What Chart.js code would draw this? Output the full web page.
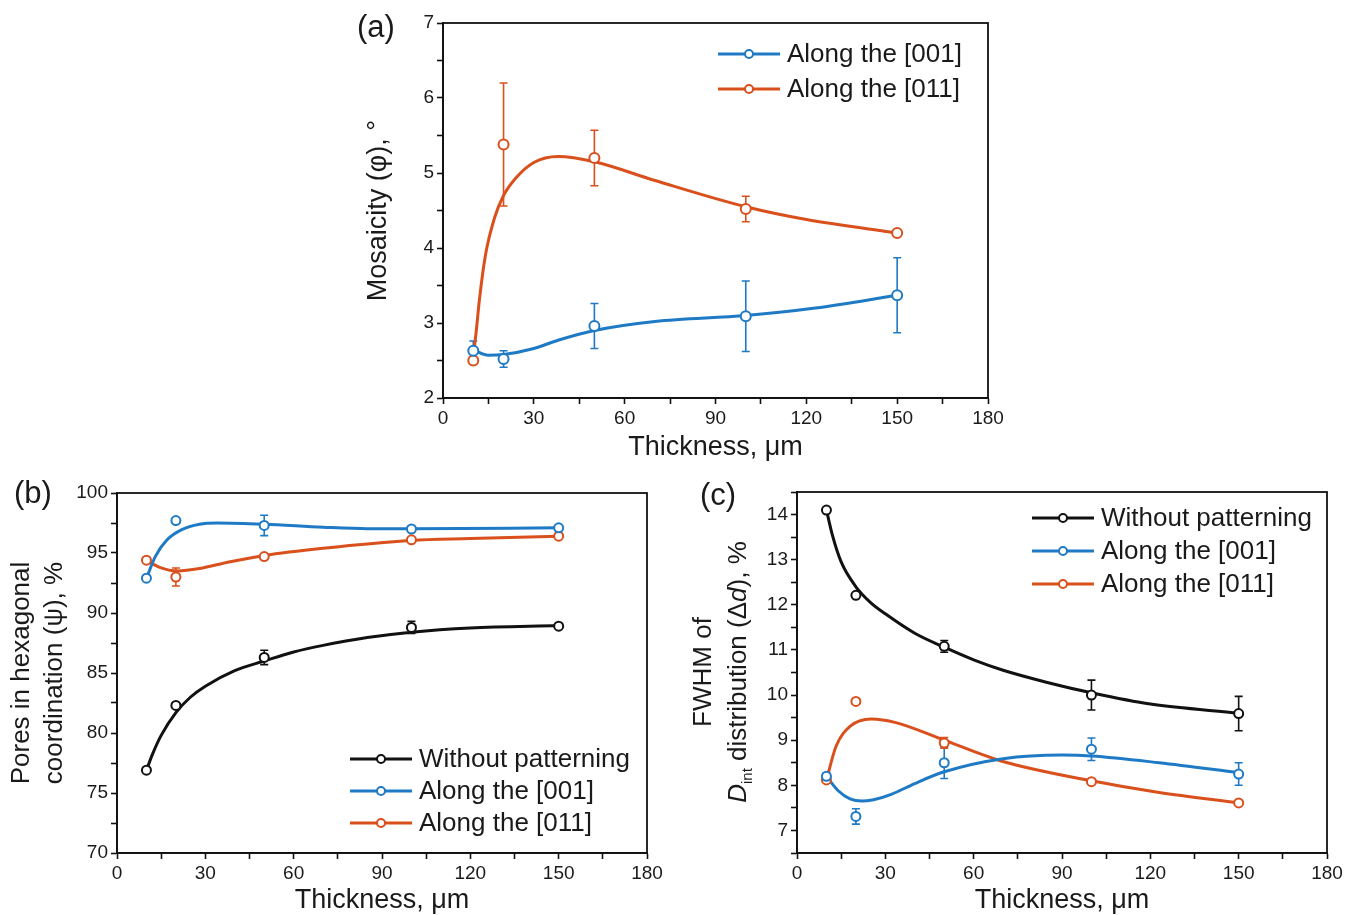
<!DOCTYPE html>
<html>
<head>
<meta charset="utf-8">
<script src="https://cdn.jsdelivr.net/npm/chart.js@4.4.1/dist/chart.umd.min.js"></script>
<style>
    body { margin: 0; background: #fff; width: 1355px; height: 915px; position: relative; overflow: hidden;
           font-family: 'Liberation Sans', Arial, sans-serif; color: #1a1a1a; }
    canvas { position: absolute; }
    .letra { position: absolute; font-size: 31px; line-height: 36px; }
    #tituloC { position: absolute; width: 440px; left: 500px; top: 637px; text-align: center;
               font-size: 26px; line-height: 35px; transform: rotate(-90deg); white-space: nowrap; }
    #tituloC sub { font-size: 15px; line-height: 0; }
</style>
</head>
<body>
<canvas id="grafA" width="700" height="470" style="left:330px; top:0px"></canvas>
<canvas id="grafB" width="690" height="440" style="left:0px; top:475px"></canvas>
<canvas id="grafC" width="675" height="440" style="left:680px; top:475px"></canvas>
<div class="letra" style="left:357px; top:9px">(a)</div>
<div class="letra" style="left:14px; top:475px">(b)</div>
<div class="letra" style="left:700px; top:477px">(c)</div>
<div id="tituloC">FWHM of<br><i>D</i><sub>int</sub> distribution (Δ<i>d</i>), %</div>

<script>
// espesores medidos (µm)
const espesores = [10, 20, 50, 100, 150];

// (a) mosaicidad
const mosaico001 = [2.63, 2.52, 2.96, 3.09, 3.37];
const errMosaico001 = [0.13, 0.11, 0.30, 0.47, 0.50];
const mosaico011 = [2.50, 5.38, 5.20, 4.52, 4.20];
const errMosaico011 = [0, 0.82, 0.37, 0.17, 0];
// curvas de ajuste
const xAjusteA001 = [10, 15, 20, 30, 38, 50, 70, 100, 123, 150];
const ajusteA001 = [2.64, 2.57, 2.58, 2.66, 2.77, 2.90, 3.02, 3.10, 3.20, 3.37];
const xAjusteA011 = [10, 11, 12, 14, 17, 20, 24, 30, 38, 50, 70, 100, 120, 150];
const ajusteA011 = [2.55, 2.90, 3.30, 3.90, 4.40, 4.70, 4.93, 5.14, 5.22, 5.15, 4.90, 4.55, 4.38, 4.20];

// (b) poros en coordinación hexagonal
const poros0 = [76.9, 82.3, 86.3, 88.8, 88.9];
const errPoros0 = [0, 0, 0.6, 0.5, 0];
const poros001 = [92.9, 97.7, 97.3, 97.0, 97.1];
const errPoros001 = [0, 0, 0.85, 0, 0];
const poros011 = [94.4, 93.0, 94.7, 96.1, 96.4];
const errPoros011 = [0, 0.75, 0, 0, 0];
const xAjusteB0 = [10, 12, 15, 20, 25, 30, 40, 50, 60, 70, 85, 100, 120, 150];
const ajusteB0 = [76.9, 78.2, 79.8, 81.7, 83.0, 83.9, 85.2, 86.0, 86.75, 87.3, 87.95, 88.4, 88.75, 88.95];
const xAjusteB001 = [10, 13, 17, 22, 28, 34, 50, 70, 85, 100, 150];
const ajusteB001 = [92.9, 94.7, 96.1, 96.95, 97.4, 97.5, 97.4, 97.15, 97.03, 97.03, 97.1];
const xAjusteB011 = [10, 14.5, 20.5, 28, 38, 50, 70, 100, 120, 150];
const ajusteB011 = [94.4, 93.8, 93.5, 93.7, 94.25, 94.8, 95.4, 96.05, 96.2, 96.4];

// (c) FWHM de la distribución de Dint
const fwhm0 = [14.1, 12.21, 11.08, 10.0, 9.59];
const errFwhm0 = [0, 0, 0.13, 0.33, 0.38];
const fwhm001 = [8.2, 7.31, 8.5, 8.8, 8.25];
const errFwhm001 = [0.08, 0.17, 0.35, 0.25, 0.25];
const fwhm011 = [8.12, 9.86, 8.94, 8.08, 7.61];
const errFwhm011 = [0, 0, 0.12, 0, 0];
const xAjusteC0 = [10, 12, 15, 20, 25, 30, 40, 50, 60, 70, 85, 100, 120, 150];
const ajusteC0 = [14.1, 13.55, 12.95, 12.4, 12.05, 11.8, 11.37, 11.06, 10.78, 10.55, 10.28, 10.05, 9.8, 9.6];
const xAjusteC001 = [10, 14, 18, 22, 26, 32, 40, 50, 70, 90, 100, 123, 150];
const ajusteC001 = [8.2, 7.88, 7.7, 7.65, 7.68, 7.8, 8.04, 8.3, 8.59, 8.67, 8.65, 8.5, 8.28];
const xAjusteC011 = [10, 13.3, 18.1, 25.2, 33.6, 50, 69.3, 100, 123, 150];
const ajusteC011 = [8.12, 8.87, 9.31, 9.47, 9.39, 9.0, 8.54, 8.1, 7.84, 7.61];

const etiquetas = ['Without patterning', 'Along the [001]', 'Along the [011]'];
const NEGRO = '#111111', AZUL = '#1f7ac6', NARANJA = '#d9501c';
const FUENTE = "'Liberation Sans', Arial, sans-serif";

const pares = (xs, ys) => xs.map((x, i) => ({ x: x, y: ys[i] }));

function puntos(valores, errores, color, etiqueta, radio) {
    return {
        data: pares(espesores, valores),
        errores: errores,
        etiqueta: etiqueta,
        showLine: false,
        borderColor: color,
        backgroundColor: '#ffffff',
        pointRadius: radio || 4.5,
        pointBorderWidth: 2,
        pointBorderColor: color,
        pointBackgroundColor: '#ffffff'
    };
}

function curva(xs, ys, color) {
    return {
        data: pares(xs, ys),
        showLine: true,
        borderColor: color,
        borderWidth: 3,
        pointRadius: 0,
        cubicInterpolationMode: 'monotone'
    };
}

// barras de error, marco del gráfico y leyenda
const extras = {
    id: 'extras',
    beforeDatasetsDraw(chart) {
        const ctx = chart.ctx, ys = chart.scales.y;
        chart.data.datasets.forEach((ds, i) => {
            if (!ds.errores) return;
            const meta = chart.getDatasetMeta(i);
            ctx.save();
            ctx.strokeStyle = ds.borderColor;
            ctx.lineWidth = 1.6;
            meta.data.forEach((pt, j) => {
                const e = ds.errores[j];
                if (!e) return;
                const v = ds.data[j].y;
                const y1 = ys.getPixelForValue(v + e), y2 = ys.getPixelForValue(v - e);
                ctx.beginPath();
                ctx.moveTo(pt.x, y1); ctx.lineTo(pt.x, y2);
                ctx.moveTo(pt.x - 4, y1); ctx.lineTo(pt.x + 4, y1);
                ctx.moveTo(pt.x - 4, y2); ctx.lineTo(pt.x + 4, y2);
                ctx.stroke();
            });
            ctx.restore();
        });
    },
    afterDraw(chart) {
        const ctx = chart.ctx, a = chart.chartArea;
        ctx.save();
        ctx.strokeStyle = NEGRO;
        ctx.lineWidth = 1.8;
        ctx.strokeRect(a.left, a.top, a.right - a.left, a.bottom - a.top);

        const ley = chart.options.plugins.extras;
        ctx.font = ley.tamano + 'px ' + FUENTE;
        ctx.textBaseline = 'middle';
        let fila = 0;
        chart.data.datasets.forEach(ds => {
            if (!ds.etiqueta) return;
            const y = ley.y + fila * ley.sep;
            ctx.strokeStyle = ds.borderColor;
            ctx.lineWidth = 3;
            ctx.beginPath();
            ctx.moveTo(ley.x, y); ctx.lineTo(ley.x + 62, y);
            ctx.stroke();
            ctx.beginPath();
            ctx.arc(ley.x + 31, y, 4, 0, Math.PI * 2);
            ctx.fillStyle = '#ffffff';
            ctx.fill();
            ctx.lineWidth = 2;
            ctx.stroke();
            ctx.fillStyle = '#1a1a1a';
            ctx.fillText(ds.etiqueta, ley.x + 69, y + 1);
            fila++;
        });
        ctx.restore();
    }
};

function armarGrafico(id, datasets, cfg) {
    const ejeComun = {
        grid: { display: true, drawOnChartArea: false, drawTicks: true, tickLength: 6, color: NEGRO, tickWidth: 1.6 },
        border: { display: true, color: NEGRO, width: 1.8 }
    };
    return new Chart(document.getElementById(id).getContext('2d'), {
        type: 'scatter',
        data: { datasets: datasets },
        plugins: [extras],
        options: {
            responsive: false,
            animation: false,
            events: [],
            devicePixelRatio: 1,
            layout: { padding: cfg.padding },
            plugins: {
                legend: { display: false },
                tooltip: { enabled: false },
                extras: cfg.leyenda
            },
            scales: {
                x: {
                    ...ejeComun,
                    min: 0, max: 180,
                    afterFit: s => { s.height = cfg.altoX; },
                    ticks: {
                        stepSize: 15, autoSkip: false, maxRotation: 0,
                        color: '#1a1a1a', font: { family: FUENTE, size: 19 },
                        callback: v => (v % 30 === 0 ? v : '')
                    },
                    title: {
                        display: true, text: 'Thickness, μm', color: '#1a1a1a',
                        font: { family: FUENTE, size: 27, lineHeight: 1.1 }, padding: cfg.padTituloX
                    }
                },
                y: {
                    ...ejeComun,
                    min: cfg.yMin, max: cfg.yMax,
                    afterFit: s => { s.width = cfg.anchoY; },
                    ticks: {
                        stepSize: cfg.paso, autoSkip: false,
                        color: '#1a1a1a', font: { family: FUENTE, size: 19 },
                        callback: v => (Math.abs(v / cfg.mayor - Math.round(v / cfg.mayor)) < 1e-6 ? v : '')
                    },
                    title: cfg.tituloY
                }
            }
        }
    });
}

armarGrafico('grafA', [
    puntos(mosaico001, errMosaico001, AZUL, etiquetas[1], 5),
    puntos(mosaico011, errMosaico011, NARANJA, etiquetas[2], 5),
    curva(xAjusteA001, ajusteA001, AZUL),
    curva(xAjusteA011, ajusteA011, NARANJA)
], {
    padding: { left: 30, top: 23, right: 42, bottom: 0 },
    anchoY: 83, altoX: 72, padTituloX: { top: 2, bottom: 8 },
    yMin: 2, yMax: 7, paso: 0.5, mayor: 1,
    tituloY: {
        display: true, text: 'Mosaicity (φ), °', color: '#1a1a1a',
        font: { family: FUENTE, size: 27, lineHeight: 1.1 }, padding: { top: 4, bottom: 0 }
    },
    leyenda: { x: 388, y: 54, sep: 35, tamano: 26 }
});

armarGrafico('grafB', [
    puntos(poros0, errPoros0, NEGRO, etiquetas[0]),
    puntos(poros001, errPoros001, AZUL, etiquetas[1]),
    puntos(poros011, errPoros011, NARANJA, etiquetas[2]),
    curva(xAjusteB0, ajusteB0, NEGRO),
    curva(xAjusteB001, ajusteB001, AZUL),
    curva(xAjusteB011, ajusteB011, NARANJA)
], {
    padding: { left: 0, top: 18, right: 43, bottom: 0 },
    anchoY: 117, altoX: 62, padTituloX: { top: 2, bottom: 0 },
    yMin: 70, yMax: 100, paso: 2.5, mayor: 5,
    tituloY: {
        display: true, text: ['Pores in hexagonal', 'coordination (ψ), %'], color: '#1a1a1a',
        font: { family: FUENTE, size: 26, lineHeight: 1.27 }, padding: { top: 5, bottom: 0 }
    },
    leyenda: { x: 350, y: 284, sep: 32, tamano: 26 }
});

armarGrafico('grafC', [
    puntos(fwhm0, errFwhm0, NEGRO, etiquetas[0]),
    puntos(fwhm001, errFwhm001, AZUL, etiquetas[1]),
    puntos(fwhm011, errFwhm011, NARANJA, etiquetas[2]),
    curva(xAjusteC0, ajusteC0, NEGRO),
    curva(xAjusteC001, ajusteC001, AZUL),
    curva(xAjusteC011, ajusteC011, NARANJA)
], {
    padding: { left: 0, top: 17, right: 28, bottom: 0 },
    anchoY: 117, altoX: 62, padTituloX: { top: 2, bottom: 0 },
    yMin: 6.5, yMax: 14.5, paso: 0.5, mayor: 1,
    tituloY: { display: false },
    leyenda: { x: 352, y: 43, sep: 33, tamano: 26 }
});
</script>
</body>
</html>
